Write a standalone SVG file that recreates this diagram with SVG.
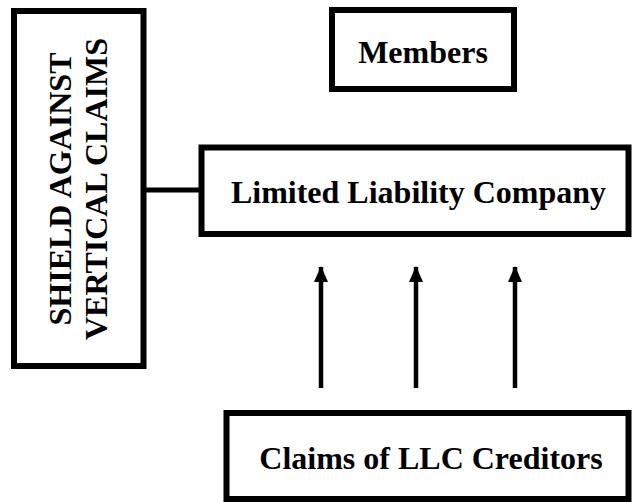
<svg xmlns="http://www.w3.org/2000/svg" width="632" height="502" viewBox="0 0 632 502">
<style>
.box{fill:#fff;stroke:#000;stroke-width:6}
.t{font-family:"Liberation Serif","Times New Roman",serif;font-weight:bold;font-size:32px;fill:#000;text-anchor:middle}
.c{stroke:#000;stroke-width:5;fill:none}
.a{stroke:#000;stroke-width:4.5;fill:none;marker-end:url(#ah)}
</style>
<defs>
<marker id="ah" viewBox="0 0 16 14" refX="15" refY="7" markerWidth="16" markerHeight="14" markerUnits="userSpaceOnUse" orient="auto">
<path d="M0,0 L16,7 L0,14 Z" fill="#000"/>
</marker>
</defs>
<g id="connectors">
<line class="c" x1="146" y1="190" x2="200" y2="190"/>
<line class="a" x1="321" y1="388" x2="321" y2="267"/>
<line class="a" x1="416" y1="388" x2="416" y2="267"/>
<line class="a" x1="515" y1="388" x2="515" y2="267"/>
</g>
<g id="shield">
<rect class="box" x="14" y="11" width="129.5" height="355"/>
<text class="t" transform="translate(71,189) rotate(-90)">SHIELD AGAINST</text>
<text class="t" transform="translate(107,189) rotate(-90)">VERTICAL CLAIMS</text>
</g>
<g id="members">
<rect class="box" x="332" y="10" width="182" height="79"/>
<text class="t" x="423" y="62.5">Members</text>
</g>
<g id="llc">
<rect class="box" x="201.5" y="147.5" width="427" height="86.5"/>
<text class="t" x="418.5" y="203">Limited Liability Company</text>
</g>
<g id="claims">
<rect class="box" x="226.5" y="413" width="402" height="86"/>
<text class="t" x="431" y="469">Claims of LLC Creditors</text>
</g>
</svg>
